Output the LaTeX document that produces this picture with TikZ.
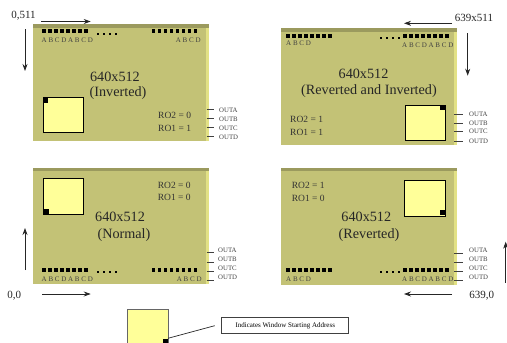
\documentclass[tikz,border=0pt]{standalone}
\usepackage{fontspec}
\usetikzlibrary{arrows.meta}
\setmainfont{Liberation Serif}
\definecolor{boardbody}{HTML}{C3C276}
\definecolor{boardtop}{HTML}{9B9A5E}
\definecolor{boardside}{HTML}{E2E185}
\definecolor{windowfill}{HTML}{FFFF99}
\tikzset{
	sizelabel/.style={inner sep=0,font=\fontsize{14.2}{16}\selectfont,text=black!85},
	rolabel/.style={inner sep=0,anchor=west,font=\fontsize{9.5}{11}\selectfont,text=black!80},
	pinlabel/.style={inner sep=0,anchor=west,font=\fontsize{7}{8}\selectfont,text=black!75},
	outlabel/.style={inner sep=0,anchor=west,font=\fontsize{6.8}{8}\selectfont,text=black!75},
	cornerlabel/.style={inner sep=0,font=\fontsize{11}{13}\selectfont,text=black!85},
	windowbox/.style={draw=black,fill=windowfill,line width=0.9,inner sep=0},
	markbox/.style={fill=black,inner sep=0,minimum size=5},
	notebox/.style={draw=black!75,line width=0.9,inner sep=0,minimum width=127,minimum height=16,font=\fontsize{7}{8}\selectfont},
	flow/.style={-{Stealth[length=7pt,width=5pt]},line width=0.8,black!85},
	stub/.style={line width=0.7,black!75},
}
% one board with its top band and side strip
\newcommand{\board}[4]{
	\fill[boardbody] (#1,#2) rectangle (#3,#4);
	\fill[boardtop] (#1,#2) rectangle (#3,#2+3.6);
	\fill[boardside] (#3-3,#2+3.6) rectangle (#3,#4);
}
% eight pins, first argument is the left edge
\newcommand{\pinrow}[2]{
	\foreach \i in {0,...,7}
		\fill (#1+6*\i,#2-1.8) rectangle +(3.6,3.6);
}
\newcommand{\dotrow}[2]{
	\foreach \i in {0,...,3}
		\fill (#1+6*\i,#2-0.9) rectangle +(1.8,1.8);
}
\begin{document}
\begin{tikzpicture}[x=1pt,y=-1pt]
	\useasboundingbox (0,0) rectangle (507,343);
	\clip (0,0) rectangle (507,343);

	% top left
	\board{33}{24}{209}{141}
	\pinrow{42}{30.7}
	\pinrow{151.7}{30.7}
	\dotrow{96.7}{33.7}
	\node[pinlabel] (tlpinsa) at (41.5,40.7) {A B C D A B C D};
	\node[pinlabel] (tlpinsb) at (175.7,40) {A B C D};
	\node[sizelabel] (tlsize) at (115,76.7) {640x512};
	\node[sizelabel] (tlmode) at (118,92.7) {(Inverted)};
	\node[rolabel] (tlroa) at (158,115) {RO2 = 0};
	\node[rolabel] (tlrob) at (158,128) {RO1 = 1};
	\node[windowbox,minimum width=40,minimum height=34.6] (tlwin) at (63.3,115) {};
	\node[markbox] (tlmark) at (45.8,100.2) {};
	\foreach \n/\yl/\yt in {A/109/110.7,B/118.3/119.7,C/127/128.5,D/136/137.7} {
		\node[outlabel] (tlout\n) at (219,\yt) {OUT\n};
		\coordinate (tlfrom\n) at (206.7,\yl);
		\coordinate (tlto\n) at (214,\yl);
		\draw[stub] (tlfrom\n) -- (tlto\n);
	}
	\node[cornerlabel] (tlcorner) at (23.5,16) {0,511};
	\coordinate (tla) at (41,21.5);
	\coordinate (tlb) at (90.7,21.5);
	\coordinate (tlc) at (25,29);
	\coordinate (tld) at (25,71);
	\draw[flow] (tla) -- (tlb);
	\draw[flow] (tlc) -- (tld);

	% top right
	\board{281}{28}{457}{145}
	\pinrow{286}{35.7}
	\pinrow{403}{35.7}
	\dotrow{380}{38}
	\node[pinlabel] (trpinsa) at (286,43.7) {A B C D};
	\node[pinlabel] (trpinsb) at (402,45.7) {A B C D A B C D};
	\node[sizelabel] (trsize) at (363.5,74) {640x512};
	\node[sizelabel] (trmode) at (369,90.7) {(Reverted and Inverted)};
	\node[rolabel] (trroa) at (290,119) {RO2 = 1};
	\node[rolabel] (trrob) at (290,132) {RO1 = 1};
	\node[windowbox,minimum width=40.3,minimum height=35] (trwin) at (425.2,122.8) {};
	\node[markbox] (trmark) at (442.8,107.8) {};
	\foreach \n/\yl/\yt in {A/114/114,B/123/123,C/131.7/131.7,D/141/141} {
		\node[outlabel] (trout\n) at (469,\yt) {OUT\n};
		\coordinate (trfrom\n) at (454,\yl);
		\coordinate (trto\n) at (463,\yl);
		\draw[stub] (trfrom\n) -- (trto\n);
	}
	\node[cornerlabel] (trcorner) at (474,18) {639x511};
	\coordinate (tra) at (452,23.3);
	\coordinate (trb) at (404,23.3);
	\coordinate (trc) at (467.7,33.3);
	\coordinate (trd) at (467.7,75.7);
	\draw[flow] (tra) -- (trb);
	\draw[flow] (trc) -- (trd);

	% bottom left
	\board{33}{167.5}{209}{284}
	\pinrow{42}{270}
	\pinrow{151.7}{270}
	\dotrow{96.7}{271.7}
	\node[pinlabel] (blpinsa) at (41.5,279.5) {A B C D A B C D};
	\node[pinlabel] (blpinsb) at (176.7,279) {A B C D};
	\node[sizelabel] (blsize) at (120,217.3) {640x512};
	\node[sizelabel] (blmode) at (124,234.7) {(Normal)};
	\node[rolabel] (blroa) at (157.7,185) {RO2 = 0};
	\node[rolabel] (blrob) at (157.7,197) {RO1 = 0};
	\node[windowbox,minimum width=40,minimum height=35.7] (blwin) at (63.3,196.2) {};
	\node[markbox] (blmark) at (46,211.5) {};
	\foreach \n/\yl/\yt in {A/252.7/250.7,B/262.3/259.7,C/271.3/268.7,D/280/277.7} {
		\node[outlabel] (blout\n) at (218,\yt) {OUT\n};
		\coordinate (blfrom\n) at (206.7,\yl);
		\coordinate (blto\n) at (214,\yl);
		\draw[stub] (blfrom\n) -- (blto\n);
	}
	\node[cornerlabel] (blcorner) at (14.3,296) {0,0};
	\coordinate (bla) at (42,294);
	\coordinate (blb) at (90.7,294);
	\coordinate (blc) at (25,270);
	\coordinate (bld) at (25,228);
	\draw[flow] (bla) -- (blb);
	\draw[flow] (blc) -- (bld);

	% bottom right
	\board{281}{167.5}{457}{285}
	\pinrow{286}{270}
	\pinrow{403}{270}
	\dotrow{380}{272}
	\node[pinlabel] (brpinsa) at (286,279.3) {A B C D};
	\node[pinlabel] (brpinsb) at (402,279.3) {A B C D A B C D};
	\node[sizelabel] (brsize) at (366.3,217.3) {640x512};
	\node[sizelabel] (brmode) at (369,234.7) {(Reverted)};
	\node[rolabel] (brroa) at (291.7,185) {RO2 = 1};
	\node[rolabel] (brrob) at (291.7,198) {RO1 = 0};
	\node[windowbox,minimum width=41,minimum height=36] (brwin) at (424.8,198) {};
	\node[markbox] (brmark) at (442.5,212.5) {};
	\foreach \n/\yl/\yt in {A/253/250.7,B/262.3/259.7,C/271.3/268.7,D/280/277.7} {
		\node[outlabel] (brout\n) at (469,\yt) {OUT\n};
		\coordinate (brfrom\n) at (454,\yl);
		\coordinate (brto\n) at (463,\yl);
		\draw[stub] (brfrom\n) -- (brto\n);
	}
	\node[cornerlabel] (brcorner) at (481.7,296) {639,0};
	\coordinate (bra) at (452,294);
	\coordinate (brb) at (404,294);
	\coordinate (brc) at (505.7,282.7);
	\coordinate (brd) at (505.7,241.7);
	\draw[flow] (bra) -- (brb);
	\draw[flow] (brc) -- (brd);

	% legend
	\node[windowbox,draw=black!60,minimum width=40.7,minimum height=40] (keywin) at (147.6,329) {};
	\node[markbox] (keymark) at (165.3,341) {};
	\node[notebox] (keynote) at (285.3,325.7) {Indicates Window Starting Address};
	\coordinate (keyend) at (214.7,325.7);
	\draw[line width=0.7,black!85] (keymark.north east) -- (keyend);
\end{tikzpicture}
\end{document}
